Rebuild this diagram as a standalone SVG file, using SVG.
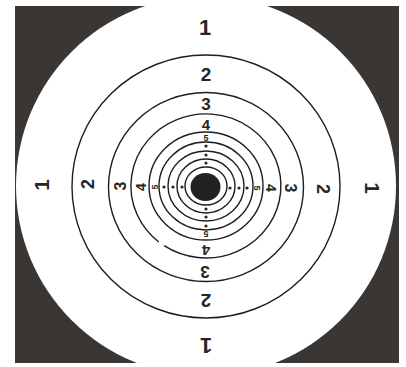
<svg xmlns="http://www.w3.org/2000/svg" width="406" height="367" viewBox="0 0 406 367">
<style>
.ring{fill:none;stroke:#1e1e1e;stroke-width:1.4}
.lbl{font-family:"Liberation Sans",Arial,sans-serif;font-weight:bold;fill:#262626;text-anchor:middle}
.dot{fill:#262626}
</style>
<defs>
<clipPath id="box"><rect x="15" y="6" width="384" height="357"/></clipPath>
</defs>
<rect x="0" y="0" width="406" height="367" fill="#ffffff"/>
<rect x="15" y="6" width="384" height="357" fill="#3a3633"/>
<g id="target-face" clip-path="url(#box)">
<circle cx="206" cy="186" r="190" fill="#ffffff"/>
</g>
<g id="rings">
<ellipse class="ring" cx="206" cy="186.5" rx="134" ry="131.5"/>
<ellipse class="ring" cx="206" cy="187" rx="97.5" ry="94.5"/>
<path class="ring" d="M158.8 241.95 A75 72 0 1 1 164.1 245.7"/>
<ellipse class="ring" cx="206" cy="186" rx="57" ry="54"/>
<ellipse class="ring" cx="206" cy="186" rx="47" ry="44"/>
<ellipse class="ring" cx="206" cy="186" rx="38" ry="35"/>
<ellipse class="ring" cx="206" cy="186" rx="29" ry="27"/>
<ellipse class="ring" cx="206" cy="186" rx="21" ry="19"/>
<ellipse cx="205.5" cy="187" rx="15" ry="14" fill="#232222"/>
</g>
<g id="labels-top">
<text class="lbl" x="205" y="35" font-size="22">1</text>
<text class="lbl" x="206" y="81" font-size="19">2</text>
<text class="lbl" x="206" y="110" font-size="17">3</text>
<text class="lbl" x="206" y="130" font-size="15">4</text>
<text class="lbl" x="206" y="140.5" font-size="9">5</text>
</g>
<g id="labels-bottom">
<text class="lbl" font-size="22" transform="translate(206,346) rotate(180)" y="7.9">1</text>
<text class="lbl" font-size="19" transform="translate(206,301) rotate(180)" y="6.8">2</text>
<text class="lbl" font-size="17" transform="translate(205,272) rotate(180)" y="6.1">3</text>
<text class="lbl" font-size="15" transform="translate(206,250) rotate(180)" y="5.4">4</text>
<text class="lbl" font-size="9" transform="translate(206,234.5) rotate(180)" y="3.2">5</text>
</g>
<g id="labels-left">
<text class="lbl" font-size="21" transform="translate(41,185) rotate(-90)" y="7.5">1</text>
<text class="lbl" font-size="18" transform="translate(88,184) rotate(-90)" y="6.4">2</text>
<text class="lbl" font-size="16" transform="translate(120,186) rotate(-90)" y="5.7">3</text>
<text class="lbl" font-size="14" transform="translate(141,187) rotate(-90)" y="5">4</text>
<text class="lbl" font-size="9" transform="translate(154.5,187) rotate(-90)" y="3.2">5</text>
</g>
<g id="labels-right">
<text class="lbl" font-size="21" transform="translate(372,188) rotate(90)" y="7.5">1</text>
<text class="lbl" font-size="18" transform="translate(323,189) rotate(90)" y="6.4">2</text>
<text class="lbl" font-size="16" transform="translate(291,188) rotate(90)" y="5.7">3</text>
<text class="lbl" font-size="14" transform="translate(271,188) rotate(90)" y="5">4</text>
<text class="lbl" font-size="9" transform="translate(257,188) rotate(90)" y="3.2">5</text>
</g>
<g id="dots">
<circle class="dot" cx="206" cy="146" r="1.6"/>
<circle class="dot" cx="206" cy="155" r="1.6"/>
<circle class="dot" cx="206" cy="163" r="1.6"/>
<circle class="dot" cx="206" cy="209" r="1.6"/>
<circle class="dot" cx="206" cy="217" r="1.6"/>
<circle class="dot" cx="206" cy="226" r="1.6"/>
<circle class="dot" cx="164" cy="187" r="1.6"/>
<circle class="dot" cx="173" cy="187" r="1.6"/>
<circle class="dot" cx="182" cy="187" r="1.6"/>
<circle class="dot" cx="230" cy="188" r="1.6"/>
<circle class="dot" cx="239" cy="188" r="1.6"/>
<circle class="dot" cx="247" cy="188" r="1.6"/>
</g>
</svg>
